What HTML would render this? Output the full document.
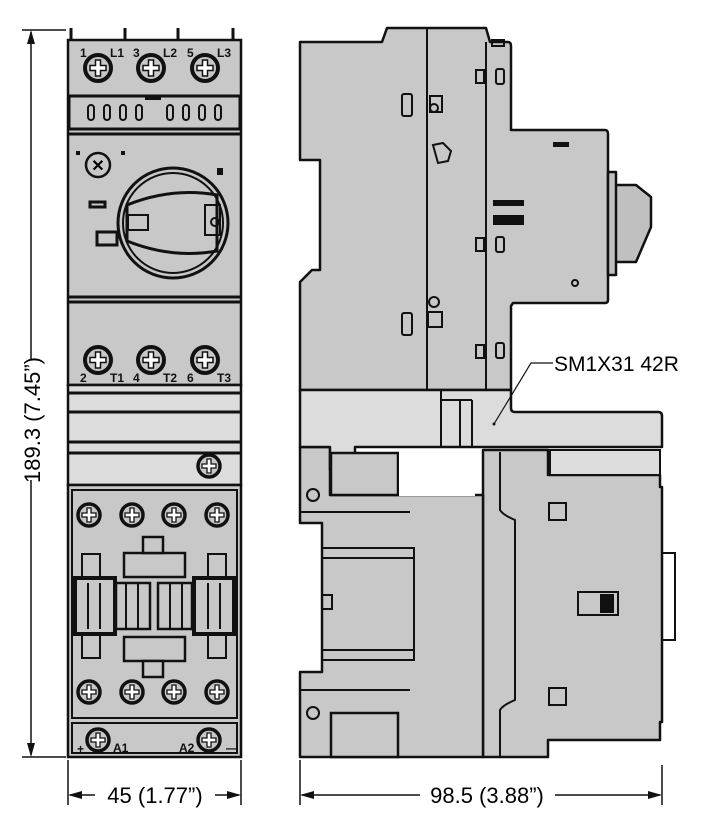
<!DOCTYPE html>
<html><head><meta charset="utf-8"><style>
body{margin:0;background:#fff;}
svg{display:block;}
text{font-family:"Liberation Sans",sans-serif;}
</style></head><body>
<svg width="716" height="835" viewBox="0 0 716 835" xmlns="http://www.w3.org/2000/svg">
<defs>
<g id="scr"><circle r="13" fill="#c8c8c8" stroke="#111" stroke-width="4"/><path d="M-8,-2.5h5.5v-5.5h5v5.5h5.5v5h-5.5v5.5h-5v-5.5h-5.5z" fill="#fff" stroke="#111" stroke-width="1.5"/></g>
<g id="scr2"><circle r="11" fill="#c8c8c8" stroke="#111" stroke-width="3.5"/><path d="M-7,-2h5v-5h4v5h5v4h-5v5h-4v-5h-5z" fill="#fff" stroke="#111" stroke-width="1.3"/></g>
</defs>
<g stroke="#111" stroke-width="1.5" fill="none">
<line x1="22" y1="30" x2="66" y2="30"/><line x1="22" y1="757" x2="66" y2="757"/>
<line x1="31" y1="32" x2="31" y2="360"/><line x1="31" y1="480" x2="31" y2="755"/>
<line x1="68" y1="760" x2="68" y2="805"/><line x1="241" y1="760" x2="241" y2="805"/>
<line x1="300" y1="760" x2="300" y2="805"/><line x1="662" y1="765" x2="662" y2="805"/>
<line x1="70" y1="795" x2="95" y2="795"/><line x1="215" y1="795" x2="239" y2="795"/>
<line x1="302" y1="795" x2="420" y2="795"/><line x1="555" y1="795" x2="660" y2="795"/>
</g>
<g fill="#111">
<path d="M31,30 l-4,14 h8z"/><path d="M31,757 l-4,-14 h8z"/>
<path d="M68,795 l14,-4 v8z"/><path d="M241,795 l-14,-4 v8z"/>
<path d="M300,795 l14,-4 v8z"/><path d="M662,795 l-14,-4 v8z"/>
</g>
<text x="0" y="0" font-size="22" transform="translate(40,420) rotate(-90)" text-anchor="middle">189.3 (7.45”)</text>
<text x="155" y="803" font-size="22" text-anchor="middle">45 (1.77”)</text>
<text x="487" y="803" font-size="22" text-anchor="middle">98.5 (3.88”)</text>

<g stroke="#111" stroke-width="2.5">
<rect x="68" y="40" width="173" height="345" fill="#c8c8c8"/>
<rect x="68" y="385" width="173" height="100" fill="#dcdcdc"/>
<rect x="68" y="485" width="173" height="272" fill="#c8c8c8"/>
</g>
<g stroke="#111" stroke-width="3" fill="none">
<line x1="71" y1="28" x2="71" y2="40"/><line x1="125" y1="28" x2="125" y2="40"/><line x1="178" y1="28" x2="178" y2="40"/><line x1="233" y1="28" x2="233" y2="40"/>
<rect x="69" y="96" width="171" height="33"/>
<line x1="68" y1="134" x2="241" y2="134"/>
<line x1="68" y1="297" x2="241" y2="297"/><line x1="68" y1="302" x2="241" y2="302"/>
<line x1="68" y1="393" x2="241" y2="393"/><line x1="68" y1="412" x2="241" y2="412"/>
<line x1="68" y1="442" x2="241" y2="442"/><line x1="68" y1="453" x2="241" y2="453"/>
<rect x="72" y="490" width="165" height="228" stroke-width="2"/>
<rect x="72" y="723" width="165" height="30" stroke-width="2"/>
</g>
<g fill="none" stroke="#111" stroke-width="2">
<rect x="88" y="105" width="6" height="15" rx="3"/><rect x="104" y="105" width="6" height="15" rx="3"/><rect x="120" y="105" width="6" height="15" rx="3"/><rect x="136" y="105" width="6" height="15" rx="3"/>
<rect x="167" y="105" width="6" height="15" rx="3"/><rect x="183" y="105" width="6" height="15" rx="3"/><rect x="199" y="105" width="6" height="15" rx="3"/><rect x="215" y="105" width="6" height="15" rx="3"/>
<circle cx="98" cy="165" r="12" stroke-width="2.5"/>
<circle cx="173" cy="223" r="55" stroke-width="3"/><circle cx="173" cy="223" r="50"/>
<path d="M127,205 q45,-18 90,-10 v56 q-45,8 -90,-10 z" stroke-width="3"/>
<rect x="205" y="205" width="15" height="30"/><circle cx="215" cy="222" r="4"/>
<rect x="128" y="215" width="20" height="15"/>
<rect x="97" y="232" width="20" height="13" stroke-width="3"/>
<rect x="90" y="202" width="15" height="5" stroke-width="3"/>
</g>
<text x="98" y="171" font-size="16" text-anchor="middle" font-weight="bold">✕</text>
<rect x="76" y="151" width="4" height="4" fill="#111"/><rect x="121" y="151" width="4" height="4" fill="#111"/>
<rect x="217" y="168" width="6" height="7" fill="#111"/>
<rect x="145" y="96" width="16" height="4" fill="#111"/>
<g font-size="12" font-weight="bold" fill="#111">
<text x="80" y="57">1</text><text x="110" y="57">L1</text><text x="133" y="57">3</text><text x="163" y="57">L2</text><text x="187" y="57">5</text><text x="217" y="57">L3</text>
<text x="80" y="382">2</text><text x="110" y="382">T1</text><text x="133" y="382">4</text><text x="163" y="382">T2</text><text x="187" y="382">6</text><text x="217" y="382">T3</text>
<text x="77" y="753">+</text><text x="113" y="752">A1</text><text x="179" y="752">A2</text><text x="226" y="752">—</text>
</g>
<use href="#scr" x="98" y="68"/><use href="#scr" x="151" y="68"/><use href="#scr" x="205" y="68"/>
<use href="#scr" x="98" y="360"/><use href="#scr" x="151" y="360"/><use href="#scr" x="205" y="360"/>
<use href="#scr2" x="209" y="466"/>
<use href="#scr2" x="89" y="515"/><use href="#scr2" x="132" y="515"/><use href="#scr2" x="174" y="515"/><use href="#scr2" x="217" y="515"/>
<use href="#scr2" x="89" y="692"/><use href="#scr2" x="132" y="692"/><use href="#scr2" x="174" y="692"/><use href="#scr2" x="217" y="692"/>
<use href="#scr2" x="98" y="740"/><use href="#scr2" x="209" y="740"/>
<g stroke="#111" stroke-width="2.5" fill="#c8c8c8">
<rect x="124" y="553" width="61" height="24"/><rect x="124" y="637" width="61" height="24"/>
<rect x="143" y="537" width="20" height="16"/><rect x="143" y="661" width="20" height="16"/>
<rect x="75" y="578" width="40" height="56" stroke-width="4"/><rect x="194" y="578" width="40" height="56" stroke-width="4"/>
<rect x="116" y="583" width="34" height="46"/><rect x="158" y="583" width="34" height="46"/>
<path d="M82,578 v-24 h18 v24 M82,634 v24 h18 v-24 M208,578 v-24 h18 v24 M208,634 v24 h18 v-24" fill="none" stroke-width="2"/>
</g>
<g stroke="#111" stroke-width="2">
<line x1="88" y1="583" x2="88" y2="629"/><line x1="100" y1="583" x2="100" y2="629"/>
<line x1="126" y1="583" x2="126" y2="629"/><line x1="138" y1="583" x2="138" y2="629"/>
<line x1="170" y1="583" x2="170" y2="629"/><line x1="182" y1="583" x2="182" y2="629"/>
<line x1="208" y1="583" x2="208" y2="629"/><line x1="220" y1="583" x2="220" y2="629"/>
</g>

<g stroke="#111" stroke-width="2.5" fill="#c8c8c8" stroke-linejoin="round">
<path d="M300,42 H382 L387,28 H486 L490,42 H508 Q511,42 511,46 V130 H605 Q608,130 608,134 V300 Q608,303 605,303 H513 L511,306 V390 H300 V282 L312,270 H320 V160 H300 Z"/>
<path d="M608,172 H616 V275 H608 Z M616,185 h20 l15,12 v30 l-15,35 h-20z" fill="#c0c0c0"/>
<path d="M483,450 H548 V475 H660 V487 H662 V722 H660 V740 H548 V757 H483 Z"/>
<path d="M300,447 H330 V495 H483 V757 H300 V672 H322 V523 H300 Z"/>
<path d="M300,390 H511 V408 Q511,412 515,412 H658 Q662,412 662,416 V447 H355 V470 H330 V447 H300 Z" fill="#dcdcdc"/>
</g>
<rect x="331" y="453" width="67" height="42" fill="#c8c8c8" stroke="#111" stroke-width="2.5"/>
<rect x="399" y="449" width="76" height="47" fill="#fff"/>
<rect x="331" y="713" width="67" height="44" fill="#c8c8c8" stroke="#111" stroke-width="2.5"/>
<rect x="550" y="450" width="110" height="25" fill="#dcdcdc" stroke="#111" stroke-width="2"/>
<g stroke="#111" stroke-width="2" fill="none">
<line x1="427" y1="28" x2="427" y2="390"/><line x1="486" y1="42" x2="486" y2="390"/>
<line x1="441" y1="390" x2="441" y2="447"/><line x1="460" y1="400" x2="460" y2="447"/><line x1="472" y1="400" x2="472" y2="447"/><line x1="441" y1="400" x2="472" y2="400"/>
<path d="M500,452 V510 Q503,515 515,520 V700 Q503,705 500,710 V757"/>
<line x1="300" y1="512" x2="410" y2="512"/><line x1="300" y1="690" x2="410" y2="690"/>
<rect x="322" y="548" width="92" height="112"/>
<line x1="322" y1="558" x2="414" y2="558"/><line x1="322" y1="650" x2="414" y2="650"/>
<rect x="322" y="595" width="10" height="14"/>
<circle cx="313" cy="495" r="6"/><circle cx="313" cy="713" r="6"/>
<rect x="402" y="94" width="10" height="22" rx="2"/><rect x="402" y="313" width="10" height="22" rx="2"/>
<rect x="496" y="69" width="8" height="15" rx="2"/><rect x="496" y="237" width="8" height="15" rx="2"/><rect x="496" y="343" width="8" height="15" rx="2"/>
<rect x="476" y="70" width="8" height="13"/><rect x="476" y="238" width="8" height="13"/><rect x="476" y="345" width="8" height="13"/>
<rect x="430" y="96" width="12" height="16"/><circle cx="434" cy="108" r="4"/><circle cx="434" cy="302" r="5"/><rect x="428" y="312" width="14" height="15"/>
<rect x="549" y="503" width="17" height="17"/><rect x="549" y="688" width="17" height="17"/><rect x="578" y="592" width="40" height="23"/>
<rect x="662" y="553" width="13" height="87"/>
<rect x="492" y="40" width="12" height="6"/>
</g>
<path d="M433,145 l10,-2 l8,8 l-3,10 l-10,2z" fill="#c8c8c8" stroke="#111" stroke-width="2"/>
<rect x="553" y="142" width="16" height="5" fill="#111"/>
<rect x="493" y="200" width="31" height="6" fill="#111"/><rect x="493" y="215" width="31" height="10" fill="#111"/>
<rect x="600" y="594" width="14" height="19" fill="#111"/>
<circle cx="575" cy="283" r="3" fill="none" stroke="#111" stroke-width="2"/>
<polyline points="494,424 531,363 553,363" fill="none" stroke="#111" stroke-width="1.2"/>
<circle cx="494" cy="424" r="1.5" fill="#111"/>
<text x="554" y="371" font-size="21">SM1X31 42R</text>
</svg>
</body></html>
